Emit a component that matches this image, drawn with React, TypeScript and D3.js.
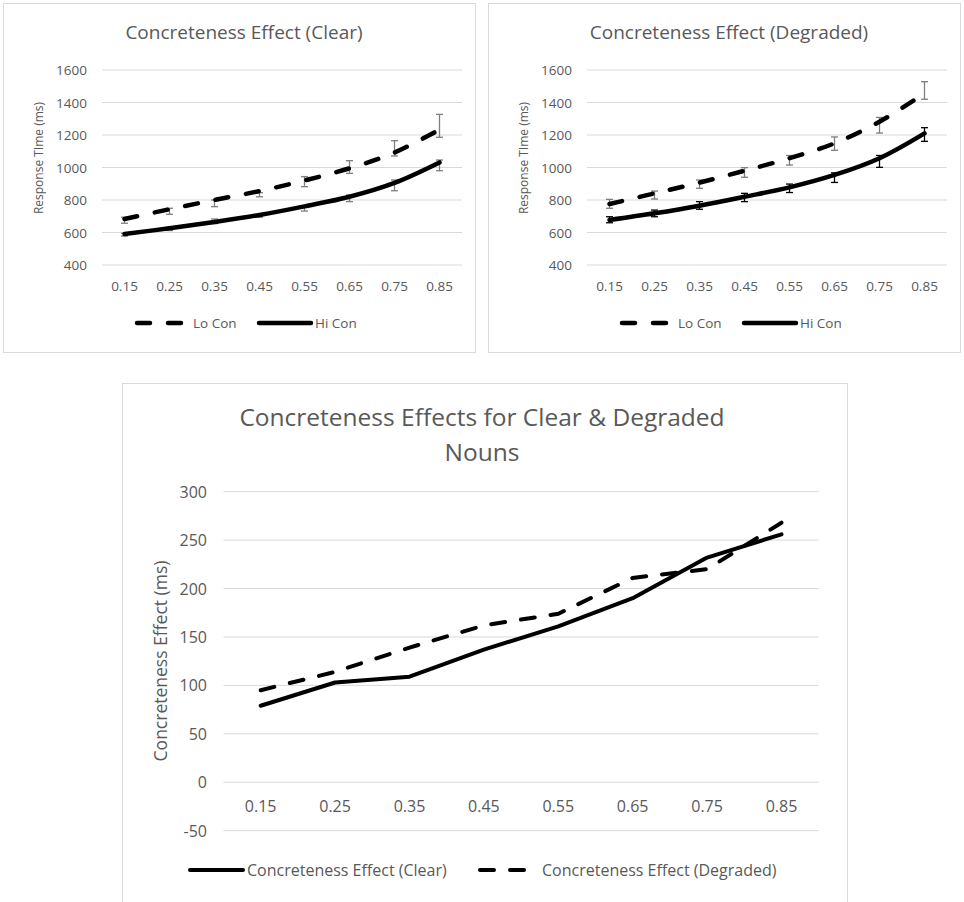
import * as d3 from "d3"

// Datos
const probabilidades = ["0.15", "0.25", "0.35", "0.45", "0.55", "0.65", "0.75", "0.85"]
const ticksRT = [400, 600, 800, 1000, 1200, 1400, 1600]
const ticksEfecto = [-50, 0, 50, 100, 150, 200, 250, 300]

// Clear
const claroLoCon = [683, 743, 800, 855, 920, 995, 1092, 1233]
const claroLoConInf = [657, 712, 759, 820, 882, 964, 1071, 1186]
const claroLoConSup = [694, 749, 800, 845, 944, 1042, 1165, 1327]
const claroHiCon = [591, 626, 665, 708, 761, 820, 905, 1031]
const claroHiConInf = [578, 612, 655, 694, 732, 790, 857, 980]
const claroHiConSup = [595, 632, 683, 708, 763, 831, 923, 1046]

// Degraded
const degLoCon = [775, 841, 907, 980, 1057, 1149, 1282, 1456]
const degLoConInf = [749, 806, 872, 940, 1015, 1106, 1212, 1420]
const degLoConSup = [804, 855, 923, 999, 1074, 1188, 1308, 1528]
const degHiCon = [677, 718, 765, 820, 878, 954, 1057, 1210]
const degHiConInf = [660, 697, 743, 790, 846, 908, 1001, 1161]
const degHiConSup = [697, 738, 790, 841, 898, 967, 1074, 1245]

// Efecto de concreción
const efectoClaro = [79, 103, 109, 137, 161, 190, 232, 256]
const efectoDegradado = [95, 114, 139, 162, 174, 211, 220, 268]

const gris = "#595959"
const grid = "#d9d9d9"
const fuente = "'Open Sans', sans-serif"

interface Serie {
  valores: number[]
  inf: number[]
  sup: number[]
  colorError: string
}

function GraficoRT({ x0, y0, titulo, lo, hi }: { x0: number; y0: number; titulo: string; lo: Serie; hi: Serie }) {
  const ancho = 472
  const alto = 349
  const xScale = d3.scaleBand().domain(probabilidades).range([99, 459])
  const yScale = d3.scaleLinear().domain([400, 1600]).range([262, 67])
  const cx = (c: string) => xScale(c)! + xScale.bandwidth() / 2
  const linea = d3
    .line<number>()
    .x((_, i) => cx(probabilidades[i]))
    .y((d) => yScale(d))
    .curve(d3.curveCatmullRom.alpha(0.5))

  const barras = (s: Serie) =>
    probabilidades.map((c, i) => {
      const x = cx(c)
      const a = yScale(s.sup[i])
      const b = yScale(s.inf[i])
      return (
        <g key={c} stroke={s.colorError} strokeWidth={1.3}>
          <line x1={x} x2={x} y1={a} y2={b} />
          <line x1={x - 3.5} x2={x + 3.5} y1={a} y2={a} />
          <line x1={x - 3.5} x2={x + 3.5} y1={b} y2={b} />
        </g>
      )
    })

  return (
    <g transform={`translate(${x0},${y0})`} fontFamily={fuente}>
      <rect x={0.5} y={0.5} width={ancho} height={alto} fill="#fff" stroke={grid} />
      <text x={241} y={29} textAnchor="middle" dominantBaseline="central" fontSize={19} fill={gris}>
        {titulo}
      </text>
      {ticksRT.map((t) => (
        <g key={t}>
          <line x1={99} x2={459} y1={yScale(t)} y2={yScale(t)} stroke={grid} strokeWidth={1} />
          <text x={84} y={yScale(t)} textAnchor="end" dominantBaseline="central" fontSize={13.5} fill={gris}>
            {t}
          </text>
        </g>
      ))}
      {probabilidades.map((c) => (
        <text key={c} x={cx(c)} y={283} textAnchor="middle" dominantBaseline="central" fontSize={13.5} fill={gris}>
          {c}
        </text>
      ))}
      <text
        transform={`translate(35,155) rotate(-90)`}
        textAnchor="middle"
        dominantBaseline="central"
        fontSize={12}
        fill={gris}
      >
        Response TIme (ms)
      </text>
      {barras(lo)}
      {barras(hi)}
      <path d={linea(lo.valores)!} fill="none" stroke="#000" strokeWidth={4.5} strokeDasharray="13,18" strokeLinecap="round" />
      <path d={linea(hi.valores)!} fill="none" stroke="#000" strokeWidth={4.5} strokeLinecap="round" />
      {/* Leyenda */}
      <line x1={134} x2={181} y1={320} y2={320} stroke="#000" strokeWidth={4.5} strokeDasharray="13,18" strokeLinecap="round" />
      <text x={190} y={320} dominantBaseline="central" fontSize={13.5} fill={gris}>
        Lo Con
      </text>
      <line x1={256} x2={308} y1={320} y2={320} stroke="#000" strokeWidth={4.5} strokeLinecap="round" />
      <text x={312} y={320} dominantBaseline="central" fontSize={13.5} fill={gris}>
        Hi Con
      </text>
    </g>
  )
}

function GraficoEfecto() {
  const xScale = d3.scaleBand().domain(probabilidades).range([223.5, 818.7])
  const yScale = d3.scaleLinear().domain([-50, 300]).range([830.7, 491.7])
  const cx = (c: string) => xScale(c)! + xScale.bandwidth() / 2
  const linea = d3
    .line<number>()
    .x((_, i) => cx(probabilidades[i]))
    .y((d) => yScale(d))

  return (
    <g fontFamily={fuente}>
      <rect x={122.5} y={383.5} width={725} height={520} fill="#fff" stroke={grid} />
      <text x={482} y={416} textAnchor="middle" dominantBaseline="central" fontSize={24.5} fill={gris}>
        Concreteness Effects for Clear &amp; Degraded
      </text>
      <text x={482} y={451} textAnchor="middle" dominantBaseline="central" fontSize={24.5} fill={gris}>
        Nouns
      </text>
      {ticksEfecto.map((t) => (
        <g key={t}>
          <line x1={223.5} x2={818.7} y1={yScale(t)} y2={yScale(t)} stroke={grid} strokeWidth={1} />
          <text x={207} y={yScale(t)} textAnchor="end" dominantBaseline="central" fontSize={16} fill={gris}>
            {t}
          </text>
        </g>
      ))}
      {probabilidades.map((c) => (
        <text key={c} x={cx(c)} y={yScale(0) + 24} textAnchor="middle" dominantBaseline="central" fontSize={16} fill={gris}>
          {c}
        </text>
      ))}
      <text
        transform={`translate(160,661) rotate(-90)`}
        textAnchor="middle"
        dominantBaseline="central"
        fontSize={17.5}
        fill={gris}
      >
        Concreteness Effect (ms)
      </text>
      <path d={linea(efectoClaro)!} fill="none" stroke="#000" strokeWidth={4} strokeLinecap="round" strokeLinejoin="round" />
      <path d={linea(efectoDegradado)!} fill="none" stroke="#000" strokeWidth={4} strokeDasharray="14,16" strokeLinecap="round" />
      {/* Leyenda */}
      <line x1={190} x2={243} y1={870} y2={870} stroke="#000" strokeWidth={4} strokeLinecap="round" />
      <text x={247} y={870} dominantBaseline="central" fontSize={16} fill={gris}>
        Concreteness Effect (Clear)
      </text>
      <line x1={480} x2={526} y1={870} y2={870} stroke="#000" strokeWidth={4} strokeDasharray="14,16" strokeLinecap="round" />
      <text x={542} y={870} dominantBaseline="central" fontSize={16} fill={gris}>
        Concreteness Effect (Degraded)
      </text>
    </g>
  )
}

export default function App() {
  const gCl = "#7f7f7f"
  return (
    <svg width={964} height={902} style={{ position: "absolute", left: 0, top: 0, background: "#fff" }}>
      <rect width={964} height={902} fill="#fff" />
      <GraficoRT
        x0={3}
        y0={3}
        titulo="Concreteness Effect (Clear)"
        lo={{ valores: claroLoCon, inf: claroLoConInf, sup: claroLoConSup, colorError: gCl }}
        hi={{ valores: claroHiCon, inf: claroHiConInf, sup: claroHiConSup, colorError: gCl }}
      />
      <GraficoRT
        x0={488}
        y0={3}
        titulo="Concreteness Effect (Degraded)"
        lo={{ valores: degLoCon, inf: degLoConInf, sup: degLoConSup, colorError: gCl }}
        hi={{ valores: degHiCon, inf: degHiConInf, sup: degHiConSup, colorError: "#000" }}
      />
      <GraficoEfecto />
    </svg>
  )
}
